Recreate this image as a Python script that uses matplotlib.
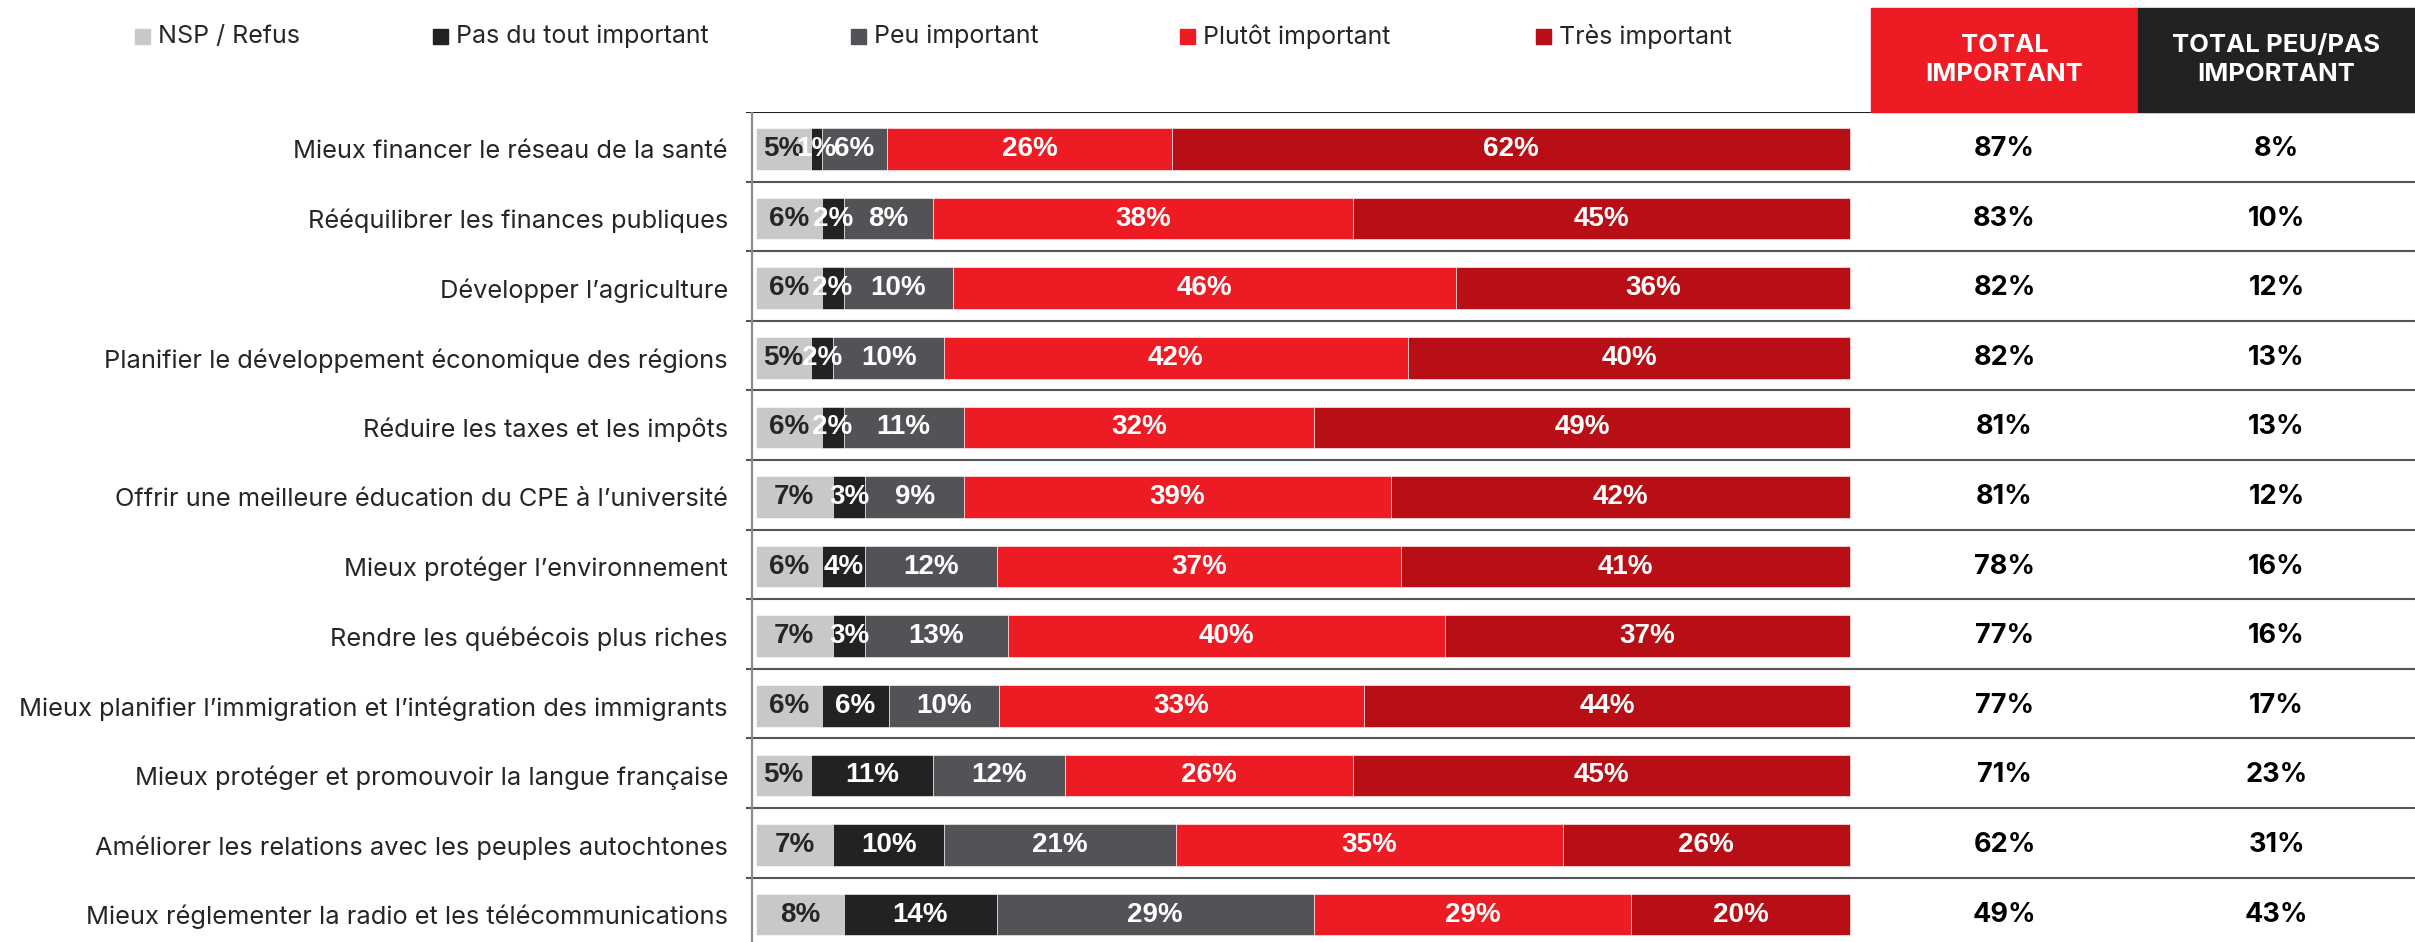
import numpy as np
import matplotlib
matplotlib.use("Agg")
import matplotlib.pyplot as plt
import matplotlib.transforms as mtransforms
from matplotlib.patches import Rectangle

# Data (percent of respondents)
categories = [
    "Mieux financer le réseau de la santé",
    "Rééquilibrer les finances publiques",
    "Développer l’agriculture",
    "Planifier le développement économique des régions",
    "Réduire les taxes et les impôts",
    "Offrir une meilleure éducation du CPE à l’université",
    "Mieux protéger l’environnement",
    "Rendre les québécois plus riches",
    "Mieux planifier l’immigration et l’intégration des immigrants",
    "Mieux protéger et promouvoir la langue française",
    "Améliorer les relations avec les peuples autochtones",
    "Mieux réglementer la radio et les télécommunications",
]
nsp = [5, 6, 6, 5, 6, 7, 6, 7, 6, 5, 7, 8]
pas_du_tout = [1, 2, 2, 2, 2, 3, 4, 3, 6, 11, 10, 14]
peu = [6, 8, 10, 10, 11, 9, 12, 13, 10, 12, 21, 29]
plutot = [26, 38, 46, 42, 32, 39, 37, 40, 33, 26, 35, 29]
tres = [62, 45, 36, 40, 49, 42, 41, 37, 44, 45, 26, 20]
total_important = [87, 83, 82, 82, 81, 81, 78, 77, 77, 71, 62, 49]
total_peu_pas = [8, 10, 12, 13, 13, 12, 16, 16, 17, 23, 31, 43]

series_names = ["NSP / Refus", "Pas du tout important", "Peu important",
                "Plutôt important", "Très important"]
colors = ["#C8C8C8", "#222222", "#535257", "#ED1C24", "#B70F15"]
label_colors = ["#262626", "white", "white", "white", "white"]

W, H = 2415, 942
fig = plt.figure(figsize=(W / 100, H / 100), dpi=100)

# axes geometry in pixels
ax_left, top_line = 746, 112
x0_px, x100_px = 756, 1850
px_per = (x100_px - x0_px) / 100.0
row_h = 69.6
first_center = top_line + 37

ax = fig.add_axes([ax_left / W, 0, (W - ax_left) / W, (H - top_line) / H])
ax.set_xlim((ax_left - x0_px) / px_per, (W - x0_px) / px_per)
ax.set_ylim((H - first_center) / row_h, (top_line - first_center) / row_h)
for s in ax.spines.values():
    s.set_visible(False)
ax.set_xticks([])

data = np.array([nsp, pas_du_tout, peu, plutot, tres], dtype=float)
shares = data / data.sum(axis=0) * 100
y = np.arange(len(categories))

left = np.zeros(len(categories))
for k in range(len(series_names)):
    ax.barh(y, shares[k], left=left, height=0.6, color=colors[k],
            edgecolor="white", linewidth=0.4, zorder=3)
    for i in range(len(categories)):
        ax.text(left[i] + shares[k][i] / 2, y[i], f"{int(data[k][i])}%",
                ha="center", va="center", color=label_colors[k],
                fontsize=20, fontweight="bold",
                family=["Liberation Sans", "DejaVu Sans"], zorder=4)
    left += shares[k]

ax.set_yticks(y)
ax.set_yticklabels(categories, fontsize=18.3, color="#262626",
                   family=["Inter", "DejaVu Sans"])
ax.tick_params(axis="y", length=0, pad=13)

# row separators and axis line
sep_top = (top_line - first_center) / row_h
for i in range(len(categories)):
    ax.axhline(sep_top + i, color="#222222" if i == 0 else "#555555",
               lw=1.5, zorder=2)
ax.axvline((752 - x0_px) / px_per, color="#8c8c8c", lw=1.6, zorder=5)

# totals columns
trans = mtransforms.blended_transform_factory(fig.transFigure, ax.transData)
col_x = [2004.5 / W, 2276.5 / W]
for i in range(len(categories)):
    ax.text(col_x[0], y[i], f"{total_important[i]}%", transform=trans,
            ha="center", va="center", fontsize=19.5, fontweight="bold",
            color="black", family=["Inter", "DejaVu Sans"])
    ax.text(col_x[1], y[i], f"{total_peu_pas[i]}%", transform=trans,
            ha="center", va="center", fontsize=19.5, fontweight="bold",
            color="black", family=["Inter", "DejaVu Sans"])

# header boxes
hdr_bottom = 1 - top_line / H
hdr_top = 1 - 8 / H
fig.patches.append(Rectangle((1871 / W, hdr_bottom), (2138 - 1871) / W,
                             hdr_top - hdr_bottom, transform=fig.transFigure,
                             color="#ED1C24", zorder=1))
fig.patches.append(Rectangle((2138 / W, hdr_bottom), (W - 2138) / W,
                             hdr_top - hdr_bottom, transform=fig.transFigure,
                             color="#222222", zorder=1))
hdr_y = (hdr_top + hdr_bottom) / 2
fig.text(col_x[0], hdr_y, "TOTAL\nIMPORTANT", ha="center", va="center",
         color="white", fontsize=18.5, fontweight="bold", linespacing=1.3,
         family=["Inter", "DejaVu Sans"])
fig.text(col_x[1], hdr_y, "TOTAL PEU/PAS\nIMPORTANT", ha="center", va="center",
         color="white", fontsize=18.5, fontweight="bold", linespacing=1.3,
         family=["Inter", "DejaVu Sans"])

# legend
leg_x = [135, 433, 851, 1180, 1536]
leg_y = 1 - 36.7 / H
sq = 15
for k, name in enumerate(series_names):
    fig.patches.append(Rectangle((leg_x[k] / W, leg_y - sq / 2 / H), sq / W, sq / H,
                                 transform=fig.transFigure, color=colors[k]))
    fig.text((leg_x[k] + 23) / W, leg_y, name, ha="left", va="center",
             fontsize=18, color="#262626", family=["Inter", "DejaVu Sans"])

fig.savefig("out.png", dpi=100)
